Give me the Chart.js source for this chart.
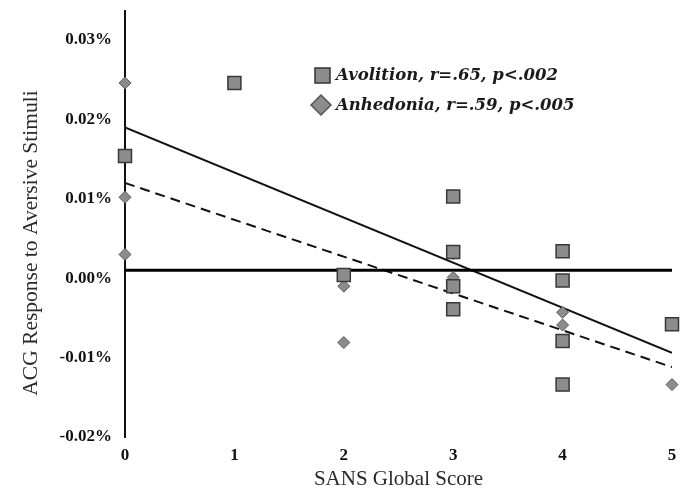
<!DOCTYPE html>
<html>
<head>
<meta charset="utf-8">
<script src="https://cdn.jsdelivr.net/npm/chart.js@4.4.1/dist/chart.umd.min.js"></script>
<style>
  html, body { margin: 0; padding: 0; background: #ffffff; }
  #wrap { width: 693px; height: 494px; position: relative; }
</style>
</head>
<body>
<div id="wrap"><canvas id="c" width="693" height="494"></canvas></div>
<script>
// ---- data (values in percent units) ----
const xTickValues = [0, 1, 2, 3, 4, 5];
const yTickValues = [-0.02, -0.01, 0, 0.01, 0.02, 0.03];
const seriesLabels = ['Avolition, r=.65, p<.002', 'Anhedonia, r=.59, p<.005'];
const xTitle = 'SANS Global Score';
const yTitle = 'ACG Response to Aversive Stimuli';

const avolitionX = [0, 1, 2, 3, 3, 3, 3, 4, 4, 4, 4, 5];
const avolitionY = [0.0154, 0.0246, 0.0004, 0.0103, 0.0033, -0.0010, -0.0039, 0.0034, -0.0003, -0.0079, -0.0134, -0.0058];

const anhedoniaX = [0, 0, 0, 2, 2, 3, 3, 4, 4, 5];
const anhedoniaY = [0.0246, 0.0102, 0.0030, -0.0010, -0.0081, 0.0031, 0.0001, -0.0043, -0.0059, -0.0134];

const fitX = [0, 5];
const avolitionFit = [0.0190, -0.0094];
const anhedoniaFit = [0.0120, -0.0112];
const referenceLevel = 0.001;

const yMin = -0.02, yMax = 0.0337;

const toPts = (xs, ys) => xs.map((x, i) => ({ x: x, y: ys[i] }));

const legendPlugin = {
  id: 'customLegend',
  afterDraw(chart) {
    const ctx = chart.ctx;
    ctx.save();
    ctx.font = 'bold italic 16.5px "DejaVu Serif"';
    ctx.textBaseline = 'middle';
    ctx.textAlign = 'left';
    // square
    ctx.fillStyle = '#8c8c8c';
    ctx.strokeStyle = '#333333';
    ctx.lineWidth = 1.5;
    ctx.beginPath();
    ctx.rect(315, 68, 15, 15);
    ctx.fill(); ctx.stroke();
    ctx.fillStyle = '#1a1a1a';
    ctx.fillText(seriesLabels[0], 336, 76);
    // diamond
    ctx.fillStyle = '#8c8c8c';
    ctx.strokeStyle = '#555555';
    ctx.beginPath();
    ctx.moveTo(311, 105); ctx.lineTo(321, 95); ctx.lineTo(331, 105); ctx.lineTo(321, 115);
    ctx.closePath();
    ctx.fill(); ctx.stroke();
    ctx.fillStyle = '#1a1a1a';
    ctx.fillText(seriesLabels[1], 336, 106);
    // y-axis title
    ctx.translate(31, 243);
    ctx.rotate(-Math.PI / 2);
    ctx.textAlign = 'center';
    ctx.font = '21.5px "Liberation Serif"';
    ctx.fillStyle = '#2a2a2a';
    ctx.fillText(yTitle, 0, 0);
    ctx.restore();
  }
};

new Chart(document.getElementById('c'), {
  type: 'scatter',
  data: {
    datasets: [
      {
        label: seriesLabels[0],
        data: toPts(avolitionX, avolitionY),
        pointStyle: 'rect',
        pointRadius: 9.2,
        pointHoverRadius: 9.2,
        backgroundColor: '#8c8c8c',
        borderColor: '#383838',
        borderWidth: 1.5,
        clip: false,
        order: 0
      },
      {
        label: seriesLabels[1],
        data: toPts(anhedoniaX, anhedoniaY),
        pointStyle: 'rectRot',
        pointRadius: 6,
        pointHoverRadius: 6,
        backgroundColor: '#8c8c8c',
        borderColor: '#5a5a5a',
        borderWidth: 1,
        clip: false,
        order: 1
      },
      {
        type: 'line',
        label: 'Avolition fit',
        data: toPts(fitX, avolitionFit),
        borderColor: '#111111',
        borderWidth: 2,
        pointRadius: 0,
        fill: false,
        order: 3
      },
      {
        type: 'line',
        label: 'Anhedonia fit',
        data: toPts(fitX, anhedoniaFit),
        borderColor: '#111111',
        borderWidth: 2,
        borderDash: [10, 6],
        pointRadius: 0,
        fill: false,
        order: 4
      },
      {
        type: 'line',
        label: 'reference',
        data: toPts(fitX, [referenceLevel, referenceLevel]),
        borderColor: '#000000',
        borderWidth: 3,
        pointRadius: 0,
        fill: false,
        order: 2
      }
    ]
  },
  options: {
    responsive: false,
    animation: false,
    layout: { padding: { top: 10, right: 21, left: 0, bottom: 0 } },
    plugins: {
      legend: { display: false },
      tooltip: { enabled: false }
    },
    scales: {
      x: {
        type: 'linear',
        min: 0,
        max: 5,
        afterBuildTicks: (s) => { s.ticks = xTickValues.map(v => ({ value: v })); },
        afterFit: (s) => { s.height = 57; s.paddingLeft = 0; s.paddingRight = 0; },
        grid: { display: false, drawTicks: false },
        border: { display: false },
        ticks: {
          padding: 8,
          color: '#111111',
          font: { family: 'Liberation Serif', size: 17, weight: 'bold' },
          callback: (v) => String(v)
        },
        title: {
          display: true,
          text: xTitle,
          color: '#2a2a2a',
          font: { family: 'Liberation Serif', size: 21 },
          padding: { top: 0, bottom: 2 }
        }
      },
      y: {
        type: 'linear',
        min: yMin,
        max: yMax,
        afterBuildTicks: (s) => { s.ticks = yTickValues.map(v => ({ value: v })); },
        afterFit: (s) => { s.width = 125; s.paddingTop = 0; s.paddingBottom = 0; },
        grid: { display: false, drawTicks: false },
        border: { display: true, color: '#111111', width: 2 },
        ticks: {
          padding: 13,
          color: '#111111',
          font: { family: 'Liberation Serif', size: 17, weight: 'bold' },
          callback: (v) => v.toFixed(2) + '%'
        }
      }
    }
  },
  plugins: [legendPlugin]
});
</script>
</body>
</html>
